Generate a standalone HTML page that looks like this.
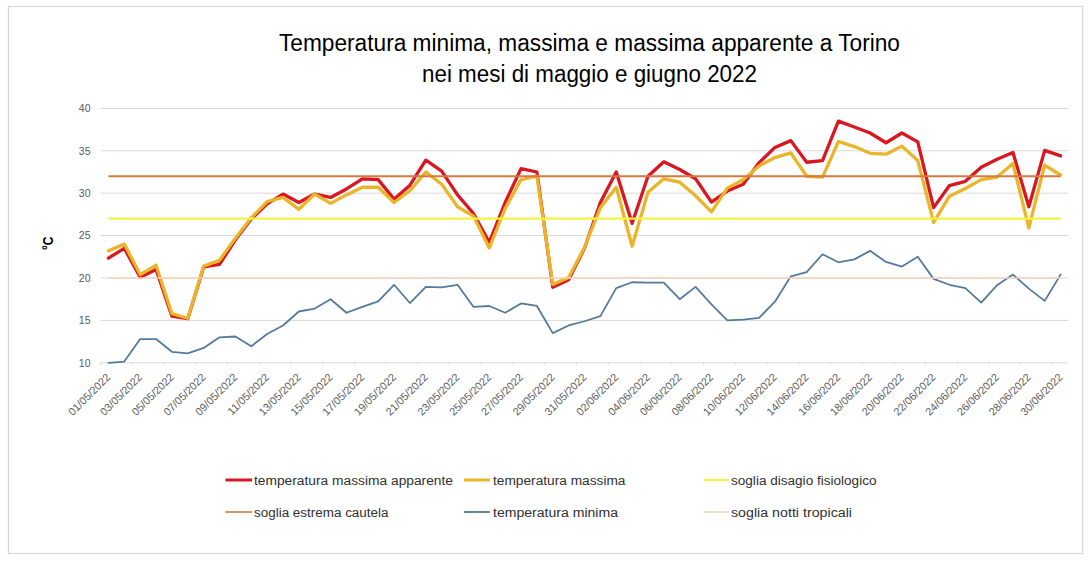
<!DOCTYPE html><html><head><meta charset="utf-8"><style>html,body{margin:0;padding:0;background:#fff;}svg{display:block;font-family:"Liberation Sans", sans-serif;}</style></head><body>
<svg width="1090" height="561" viewBox="0 0 1090 561">
<rect x="0" y="0" width="1090" height="561" fill="#fff"/>
<rect x="8.5" y="6.5" width="1074" height="547" fill="#fff" stroke="#d9d9d9" stroke-width="1.3"/>
<text x="279" y="51.3" font-size="23" fill="#000" textLength="621" lengthAdjust="spacingAndGlyphs">Temperatura minima, massima e massima apparente a Torino</text>
<text x="422" y="81.6" font-size="23" fill="#000" textLength="335" lengthAdjust="spacingAndGlyphs">nei mesi di maggio e giugno 2022</text>
<line x1="100.5" y1="320.40" x2="1068.5" y2="320.40" stroke="#d9d9d9" stroke-width="1"/>
<line x1="100.5" y1="278.00" x2="1068.5" y2="278.00" stroke="#d9d9d9" stroke-width="1"/>
<line x1="100.5" y1="235.60" x2="1068.5" y2="235.60" stroke="#d9d9d9" stroke-width="1"/>
<line x1="100.5" y1="193.20" x2="1068.5" y2="193.20" stroke="#d9d9d9" stroke-width="1"/>
<line x1="100.5" y1="150.80" x2="1068.5" y2="150.80" stroke="#d9d9d9" stroke-width="1"/>
<line x1="100.5" y1="108.40" x2="1068.5" y2="108.40" stroke="#d9d9d9" stroke-width="1"/>
<line x1="100.5" y1="362.80" x2="1068.5" y2="362.80" stroke="#d9d9d9" stroke-width="1"/>
<line x1="100.50" y1="362.80" x2="100.50" y2="365.80" stroke="#e3e3e3" stroke-width="1"/>
<line x1="132.24" y1="362.80" x2="132.24" y2="365.80" stroke="#e3e3e3" stroke-width="1"/>
<line x1="163.98" y1="362.80" x2="163.98" y2="365.80" stroke="#e3e3e3" stroke-width="1"/>
<line x1="195.71" y1="362.80" x2="195.71" y2="365.80" stroke="#e3e3e3" stroke-width="1"/>
<line x1="227.45" y1="362.80" x2="227.45" y2="365.80" stroke="#e3e3e3" stroke-width="1"/>
<line x1="259.19" y1="362.80" x2="259.19" y2="365.80" stroke="#e3e3e3" stroke-width="1"/>
<line x1="290.93" y1="362.80" x2="290.93" y2="365.80" stroke="#e3e3e3" stroke-width="1"/>
<line x1="322.66" y1="362.80" x2="322.66" y2="365.80" stroke="#e3e3e3" stroke-width="1"/>
<line x1="354.40" y1="362.80" x2="354.40" y2="365.80" stroke="#e3e3e3" stroke-width="1"/>
<line x1="386.14" y1="362.80" x2="386.14" y2="365.80" stroke="#e3e3e3" stroke-width="1"/>
<line x1="417.88" y1="362.80" x2="417.88" y2="365.80" stroke="#e3e3e3" stroke-width="1"/>
<line x1="449.61" y1="362.80" x2="449.61" y2="365.80" stroke="#e3e3e3" stroke-width="1"/>
<line x1="481.35" y1="362.80" x2="481.35" y2="365.80" stroke="#e3e3e3" stroke-width="1"/>
<line x1="513.09" y1="362.80" x2="513.09" y2="365.80" stroke="#e3e3e3" stroke-width="1"/>
<line x1="544.83" y1="362.80" x2="544.83" y2="365.80" stroke="#e3e3e3" stroke-width="1"/>
<line x1="576.57" y1="362.80" x2="576.57" y2="365.80" stroke="#e3e3e3" stroke-width="1"/>
<line x1="608.30" y1="362.80" x2="608.30" y2="365.80" stroke="#e3e3e3" stroke-width="1"/>
<line x1="640.04" y1="362.80" x2="640.04" y2="365.80" stroke="#e3e3e3" stroke-width="1"/>
<line x1="671.78" y1="362.80" x2="671.78" y2="365.80" stroke="#e3e3e3" stroke-width="1"/>
<line x1="703.52" y1="362.80" x2="703.52" y2="365.80" stroke="#e3e3e3" stroke-width="1"/>
<line x1="735.25" y1="362.80" x2="735.25" y2="365.80" stroke="#e3e3e3" stroke-width="1"/>
<line x1="766.99" y1="362.80" x2="766.99" y2="365.80" stroke="#e3e3e3" stroke-width="1"/>
<line x1="798.73" y1="362.80" x2="798.73" y2="365.80" stroke="#e3e3e3" stroke-width="1"/>
<line x1="830.47" y1="362.80" x2="830.47" y2="365.80" stroke="#e3e3e3" stroke-width="1"/>
<line x1="862.20" y1="362.80" x2="862.20" y2="365.80" stroke="#e3e3e3" stroke-width="1"/>
<line x1="893.94" y1="362.80" x2="893.94" y2="365.80" stroke="#e3e3e3" stroke-width="1"/>
<line x1="925.68" y1="362.80" x2="925.68" y2="365.80" stroke="#e3e3e3" stroke-width="1"/>
<line x1="957.42" y1="362.80" x2="957.42" y2="365.80" stroke="#e3e3e3" stroke-width="1"/>
<line x1="989.16" y1="362.80" x2="989.16" y2="365.80" stroke="#e3e3e3" stroke-width="1"/>
<line x1="1020.89" y1="362.80" x2="1020.89" y2="365.80" stroke="#e3e3e3" stroke-width="1"/>
<line x1="1052.63" y1="362.80" x2="1052.63" y2="365.80" stroke="#e3e3e3" stroke-width="1"/>
<text x="90.5" y="366.50" font-size="10.5" fill="#595959" text-anchor="end">10</text>
<text x="90.5" y="324.10" font-size="10.5" fill="#595959" text-anchor="end">15</text>
<text x="90.5" y="281.70" font-size="10.5" fill="#595959" text-anchor="end">20</text>
<text x="90.5" y="239.30" font-size="10.5" fill="#595959" text-anchor="end">25</text>
<text x="90.5" y="196.90" font-size="10.5" fill="#595959" text-anchor="end">30</text>
<text x="90.5" y="154.50" font-size="10.5" fill="#595959" text-anchor="end">35</text>
<text x="90.5" y="112.10" font-size="10.5" fill="#595959" text-anchor="end">40</text>
<text transform="translate(111.08,378) rotate(-45)" font-size="10.8" fill="#595959" text-anchor="end">01/05/2022</text>
<text transform="translate(142.82,378) rotate(-45)" font-size="10.8" fill="#595959" text-anchor="end">03/05/2022</text>
<text transform="translate(174.56,378) rotate(-45)" font-size="10.8" fill="#595959" text-anchor="end">05/05/2022</text>
<text transform="translate(206.30,378) rotate(-45)" font-size="10.8" fill="#595959" text-anchor="end">07/05/2022</text>
<text transform="translate(238.04,378) rotate(-45)" font-size="10.8" fill="#595959" text-anchor="end">09/05/2022</text>
<text transform="translate(269.77,378) rotate(-45)" font-size="10.8" fill="#595959" text-anchor="end">11/05/2022</text>
<text transform="translate(301.51,378) rotate(-45)" font-size="10.8" fill="#595959" text-anchor="end">13/05/2022</text>
<text transform="translate(333.25,378) rotate(-45)" font-size="10.8" fill="#595959" text-anchor="end">15/05/2022</text>
<text transform="translate(364.99,378) rotate(-45)" font-size="10.8" fill="#595959" text-anchor="end">17/05/2022</text>
<text transform="translate(396.72,378) rotate(-45)" font-size="10.8" fill="#595959" text-anchor="end">19/05/2022</text>
<text transform="translate(428.46,378) rotate(-45)" font-size="10.8" fill="#595959" text-anchor="end">21/05/2022</text>
<text transform="translate(460.20,378) rotate(-45)" font-size="10.8" fill="#595959" text-anchor="end">23/05/2022</text>
<text transform="translate(491.94,378) rotate(-45)" font-size="10.8" fill="#595959" text-anchor="end">25/05/2022</text>
<text transform="translate(523.67,378) rotate(-45)" font-size="10.8" fill="#595959" text-anchor="end">27/05/2022</text>
<text transform="translate(555.41,378) rotate(-45)" font-size="10.8" fill="#595959" text-anchor="end">29/05/2022</text>
<text transform="translate(587.15,378) rotate(-45)" font-size="10.8" fill="#595959" text-anchor="end">31/05/2022</text>
<text transform="translate(618.89,378) rotate(-45)" font-size="10.8" fill="#595959" text-anchor="end">02/06/2022</text>
<text transform="translate(650.63,378) rotate(-45)" font-size="10.8" fill="#595959" text-anchor="end">04/06/2022</text>
<text transform="translate(682.36,378) rotate(-45)" font-size="10.8" fill="#595959" text-anchor="end">06/06/2022</text>
<text transform="translate(714.10,378) rotate(-45)" font-size="10.8" fill="#595959" text-anchor="end">08/06/2022</text>
<text transform="translate(745.84,378) rotate(-45)" font-size="10.8" fill="#595959" text-anchor="end">10/06/2022</text>
<text transform="translate(777.58,378) rotate(-45)" font-size="10.8" fill="#595959" text-anchor="end">12/06/2022</text>
<text transform="translate(809.31,378) rotate(-45)" font-size="10.8" fill="#595959" text-anchor="end">14/06/2022</text>
<text transform="translate(841.05,378) rotate(-45)" font-size="10.8" fill="#595959" text-anchor="end">16/06/2022</text>
<text transform="translate(872.79,378) rotate(-45)" font-size="10.8" fill="#595959" text-anchor="end">18/06/2022</text>
<text transform="translate(904.53,378) rotate(-45)" font-size="10.8" fill="#595959" text-anchor="end">20/06/2022</text>
<text transform="translate(936.26,378) rotate(-45)" font-size="10.8" fill="#595959" text-anchor="end">22/06/2022</text>
<text transform="translate(968.00,378) rotate(-45)" font-size="10.8" fill="#595959" text-anchor="end">24/06/2022</text>
<text transform="translate(999.74,378) rotate(-45)" font-size="10.8" fill="#595959" text-anchor="end">26/06/2022</text>
<text transform="translate(1031.48,378) rotate(-45)" font-size="10.8" fill="#595959" text-anchor="end">28/06/2022</text>
<text transform="translate(1063.22,378) rotate(-45)" font-size="10.8" fill="#595959" text-anchor="end">30/06/2022</text>
<text transform="translate(53.3,243.3) rotate(-90)" font-size="14" font-weight="bold" fill="#000" text-anchor="middle" textLength="13.5" lengthAdjust="spacingAndGlyphs">°C</text>
<polyline fill="none" stroke="#da1620" stroke-width="3.3" stroke-linejoin="round" stroke-linecap="round" points="108.43,258.07 124.30,248.32 140.17,277.15 156.04,269.52 171.91,316.16 187.78,318.70 203.65,266.98 219.52,264.43 235.39,239.84 251.25,219.06 267.12,203.80 282.99,194.05 298.86,202.53 314.73,194.05 330.60,197.44 346.47,188.96 362.34,178.78 378.20,179.63 394.07,199.14 409.94,185.14 425.81,160.13 441.68,171.15 457.55,194.90 473.42,213.55 489.29,242.38 505.16,202.53 521.02,168.61 536.89,172.00 552.76,287.33 568.63,279.70 584.50,248.32 600.37,202.53 616.24,172.00 632.11,223.30 647.98,176.24 663.84,161.82 679.71,169.46 695.58,178.78 711.45,202.10 727.32,191.08 743.19,184.30 759.06,162.67 774.93,147.41 790.80,140.62 806.66,162.25 822.53,160.55 838.40,121.12 854.27,127.06 870.14,132.99 886.01,142.74 901.88,132.99 917.75,141.90 933.61,207.62 949.48,185.57 965.35,181.33 981.22,167.34 997.09,159.28 1012.96,152.50 1028.83,206.77 1044.70,150.38 1060.57,155.89"/>
<polyline fill="none" stroke="#ebb52a" stroke-width="3.3" stroke-linejoin="round" stroke-linecap="round" points="108.43,250.86 124.30,244.08 140.17,274.61 156.04,265.28 171.91,313.62 187.78,318.28 203.65,266.13 219.52,260.19 235.39,238.14 251.25,217.79 267.12,201.68 282.99,197.44 298.86,209.31 314.73,194.05 330.60,203.38 346.47,194.90 362.34,187.26 378.20,187.26 394.07,202.53 409.94,190.66 425.81,172.00 441.68,184.30 457.55,206.77 473.42,216.10 489.29,247.90 505.16,208.46 521.02,179.63 536.89,176.24 552.76,284.36 568.63,277.58 584.50,247.47 600.37,207.62 616.24,187.26 632.11,246.20 647.98,192.35 663.84,178.78 679.71,182.18 695.58,195.74 711.45,211.86 727.32,188.11 743.19,179.63 759.06,166.06 774.93,157.58 790.80,152.92 806.66,176.24 822.53,177.09 838.40,141.47 854.27,146.56 870.14,153.34 886.01,154.19 901.88,146.14 917.75,160.55 933.61,222.46 949.48,196.17 965.35,188.54 981.22,179.63 997.09,177.09 1012.96,163.52 1028.83,227.97 1044.70,165.22 1060.57,174.97"/>
<line x1="108.43" y1="218.64" x2="1060.57" y2="218.64" stroke="#f4f244" stroke-width="2.4"/>
<line x1="108.43" y1="176.24" x2="1060.57" y2="176.24" stroke="#d6783f" stroke-width="1.8"/>
<polyline fill="none" stroke="#567a9c" stroke-width="1.8" stroke-linejoin="round" stroke-linecap="round" points="108.43,362.80 124.30,361.53 140.17,339.06 156.04,339.06 171.91,351.78 187.78,353.47 203.65,347.96 219.52,337.36 235.39,336.51 251.25,346.26 267.12,333.97 282.99,325.49 298.86,311.50 314.73,308.53 330.60,299.20 346.47,312.77 362.34,306.83 378.20,301.32 394.07,284.78 409.94,303.02 425.81,286.90 441.68,287.33 457.55,284.78 473.42,306.83 489.29,305.98 505.16,312.77 521.02,303.44 536.89,305.98 552.76,333.12 568.63,325.49 584.50,321.25 600.37,316.16 616.24,288.18 632.11,282.24 647.98,282.66 663.84,282.66 679.71,299.20 695.58,286.90 711.45,304.29 727.32,320.40 743.19,319.55 759.06,317.86 774.93,301.74 790.80,276.30 806.66,272.06 822.53,254.26 838.40,262.31 854.27,259.34 870.14,250.86 886.01,261.89 901.88,266.55 917.75,256.80 933.61,278.85 949.48,284.78 965.35,288.18 981.22,302.59 997.09,285.21 1012.96,274.61 1028.83,288.60 1044.70,300.90 1060.57,274.61"/>
<line x1="108.43" y1="278.00" x2="1060.57" y2="278.00" stroke="#f4d2bd" stroke-width="1.6"/>
<line x1="225.5" y1="480.0" x2="252.0" y2="480.0" stroke="#da1620" stroke-width="3"/>
<text x="254.0" y="484.7" font-size="12" fill="#303030" textLength="199.0" lengthAdjust="spacingAndGlyphs">temperatura massima apparente</text>
<line x1="464.0" y1="480.0" x2="490.0" y2="480.0" stroke="#ebb52a" stroke-width="3"/>
<text x="493.0" y="484.7" font-size="12" fill="#303030" textLength="132.5" lengthAdjust="spacingAndGlyphs">temperatura massima</text>
<line x1="704.0" y1="480.0" x2="728.5" y2="480.0" stroke="#f4f244" stroke-width="2.2"/>
<text x="731.0" y="484.7" font-size="12" fill="#303030" textLength="145.5" lengthAdjust="spacingAndGlyphs">soglia disagio fisiologico</text>
<line x1="225.5" y1="512.0" x2="252.0" y2="512.0" stroke="#d6783f" stroke-width="1.6"/>
<text x="254.0" y="516.7" font-size="12" fill="#303030" textLength="134.5" lengthAdjust="spacingAndGlyphs">soglia estrema cautela</text>
<line x1="464.0" y1="512.0" x2="490.0" y2="512.0" stroke="#567a9c" stroke-width="1.8"/>
<text x="493.0" y="516.7" font-size="12" fill="#303030" textLength="125.0" lengthAdjust="spacingAndGlyphs">temperatura minima</text>
<line x1="704.0" y1="512.0" x2="728.5" y2="512.0" stroke="#f4d2bd" stroke-width="1.6"/>
<text x="731.0" y="516.7" font-size="12" fill="#303030" textLength="121.0" lengthAdjust="spacingAndGlyphs">soglia notti tropicali</text>
</svg></body></html>
